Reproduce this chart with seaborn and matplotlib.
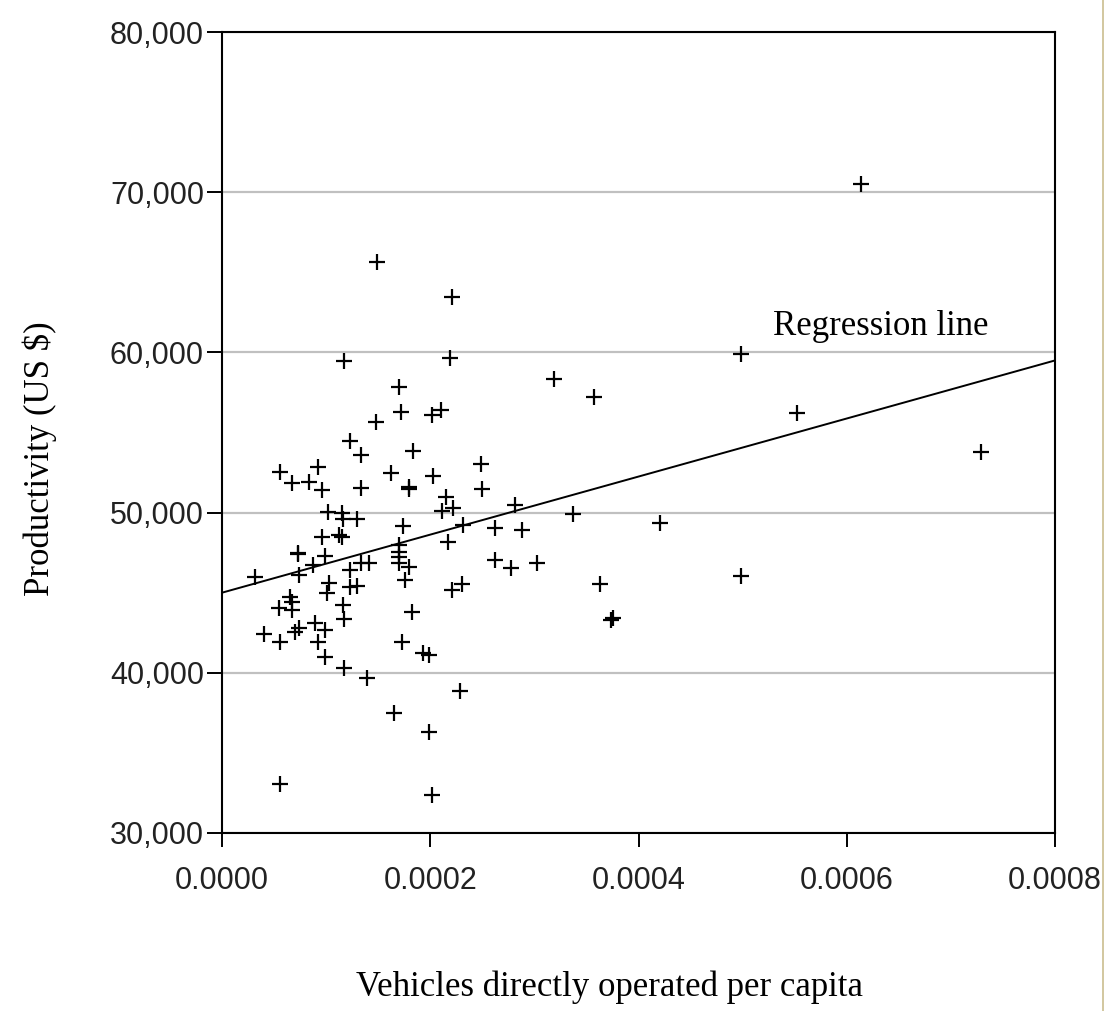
import matplotlib
matplotlib.use("Agg")
import matplotlib.pyplot as plt
import seaborn as sns
import pandas as pd
from matplotlib.lines import Line2D

# data
vehicles = [
    6.137, 1.489, 2.212, 1.169, 2.190, 4.985, 3.189, 3.573, 1.697, 5.522,
    1.719, 1.482, 2.014, 2.103, 1.232, 1.831, 1.338, 0.554, 0.919, 1.623,
    0.672, 0.833, 0.960, 1.338, 1.799, 1.799, 2.030, 2.485, 2.494, 2.151,
    2.222, 2.110, 2.814, 7.289, 1.018, 1.152, 1.159, 1.297, 1.738, 2.318,
    2.622, 2.878, 3.374, 4.207, 0.960, 1.127, 1.152, 0.730, 0.730, 0.992,
    0.870, 1.697, 1.697, 1.697, 1.697, 1.793, 2.174, 2.622, 2.776, 3.022,
    0.320, 0.743, 1.232, 1.338, 1.409, 1.025, 1.008, 1.232, 1.297, 1.754,
    2.206, 2.308, 3.630, 4.985, 0.650, 0.672, 0.550, 0.672, 1.159, 1.825,
    1.169, 0.400, 0.554, 0.743, 0.704, 0.896, 0.992, 0.919, 0.992, 1.169,
    1.393, 1.729, 3.733, 3.757, 1.933, 1.991, 2.286, 1.991, 2.014, 1.649,
    0.560,
]
productivity = [
    70510, 65660, 63440, 59480, 59630, 59900, 58360, 57235, 57820, 56220,
    56260, 55675, 56090, 56400, 54490, 53845, 53595, 52555, 52865, 52450,
    51865, 51930, 51410, 51555, 51600, 51480, 52285, 53015, 51455, 50950,
    50270, 50120, 50475, 53780, 50055, 49955, 49580, 49600, 49160, 49225,
    49010, 48905, 49895, 49350, 48455, 48600, 48500, 47500, 47400, 47290,
    46730, 47980, 47560, 47210, 46870, 46620, 48180, 47040, 46520, 46870,
    46000, 46105, 46415, 46835, 46870, 45585, 45000, 45375, 45435, 45790,
    45170, 45525, 45525, 46040, 44750, 44440, 44025, 43920, 44230, 43810,
    43340, 42420, 41940, 42780, 42515, 43125, 42670, 41940, 40970, 40270,
    39655, 41940, 43295, 43400, 41205, 41110, 38865, 36285, 32370, 37470,
    33060,
]
# regression line end points (x in units of 1e-4)
reg_x = [0.0, 8.0]
reg_y = [45000, 59500]

x_ticks = [0.0, 0.0002, 0.0004, 0.0006, 0.0008]
x_tick_labels = ["0.0000", "0.0002", "0.0004", "0.0006", "0.0008"]
y_ticks = [30000, 40000, 50000, 60000, 70000, 80000]
y_tick_labels = ["30,000", "40,000", "50,000", "60,000", "70,000", "80,000"]

df = pd.DataFrame({
    "vehicles": [v * 1e-4 for v in vehicles],
    "productivity": productivity,
})

sns.set_theme(style="white")
plt.rcParams["text.color"] = "black"
plt.rcParams["axes.labelcolor"] = "black"
serif = ["Liberation Serif", "DejaVu Serif"]
sans = ["Liberation Sans", "DejaVu Sans"]

fig = plt.figure(figsize=(11.05, 10.11), dpi=100)
ax = fig.add_axes([0.2009, 0.1761, 0.7539, 0.7922])

ax.grid(axis="y", color="#c0c0c0", linewidth=1.6)
ax.set_axisbelow(True)

sns.scatterplot(data=df, x="vehicles", y="productivity", marker="+",
                color="black", s=120, linewidth=1.6, ax=ax, zorder=3)

ax.plot([v * 1e-4 for v in reg_x], reg_y, color="black", linewidth=1.4, zorder=2)
ax.text(5.292e-4, 61085, "Regression line", family=serif, fontsize=25,
        ha="left", va="baseline", color="black")

ax.set_xlim(0, 0.0008)
ax.set_ylim(30000, 80000)
ax.set_xticks(x_ticks)
ax.set_xticklabels(x_tick_labels, family=sans, fontsize=22, color="#222222")
ax.set_yticks(y_ticks)
ax.set_yticklabels(y_tick_labels, family=sans, fontsize=22, color="#222222")
ax.tick_params(axis="x", direction="out", length=10, width=1.4, pad=14,
               color="black", bottom=True)
ax.tick_params(axis="y", direction="out", length=11, width=1.4, pad=2,
               color="black", left=True)

for sp in ax.spines.values():
    sp.set_color("black")
    sp.set_linewidth(1.5)

ax.set_xlabel("Vehicles directly operated per capita", family=serif,
              fontsize=25, color="black")
ax.set_ylabel("Productivity (US $)", family=serif, fontsize=25, color="black")
ax.xaxis.set_label_coords(0.465, -0.172)
ax.yaxis.set_label_coords(-0.198, 0.467)

# thin slide border at the right edge
fig.add_artist(Line2D([0.9985, 0.9985], [0, 1], transform=fig.transFigure,
                      color="#cbbd8f", linewidth=1.2))

fig.savefig("out.png", dpi=100)
